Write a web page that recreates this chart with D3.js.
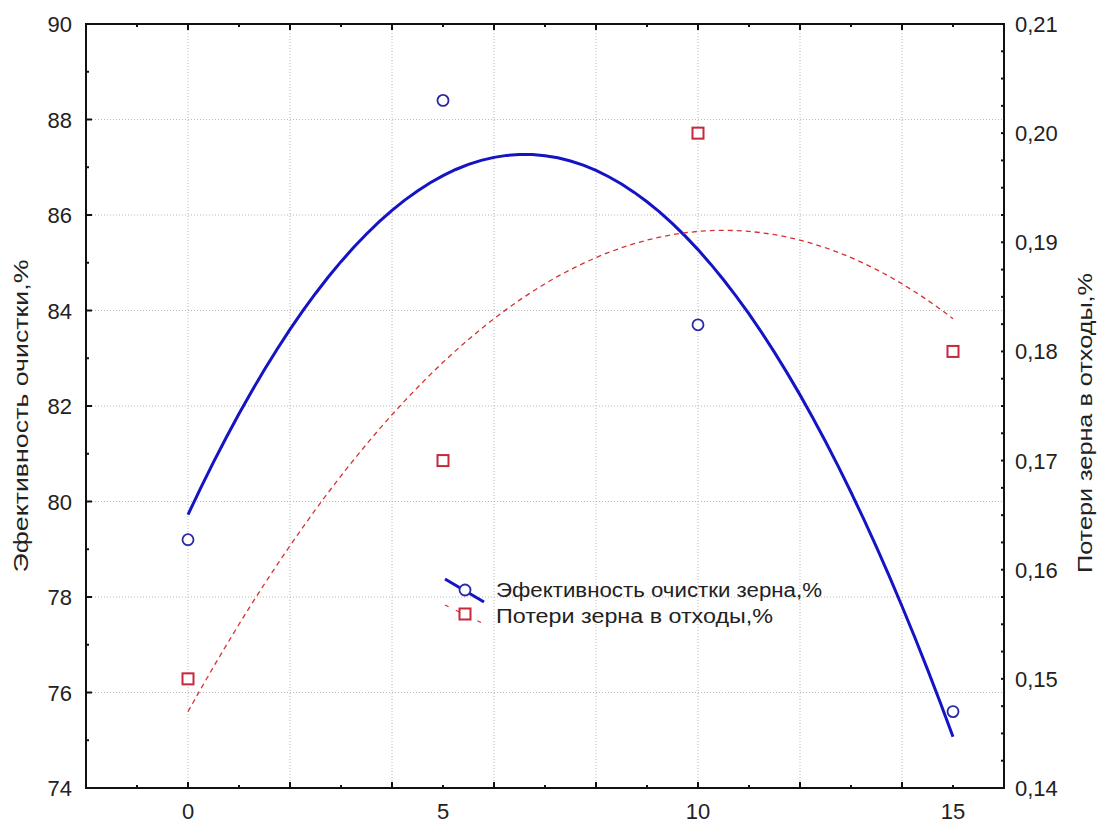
<!DOCTYPE html>
<html><head><meta charset="utf-8">
<script src="https://cdn.jsdelivr.net/npm/d3@7"></script>
<style>
body{margin:0;background:#fff;}
svg{display:block;}
text{font-family:"Liberation Sans",Arial,sans-serif;fill:#222;}
</style></head>
<body>
<script>
// ---- data ----
const xValues = [0, 5, 10, 15];
const efficiency = [79.2, 88.4, 83.7, 75.6];      // Эфективность очистки зерна,%
const losses = [0.150, 0.170, 0.200, 0.180];     // Потери зерна в отходы,%
const xTickLabels = [0, 5, 10, 15];
const leftTicks = [74, 76, 78, 80, 82, 84, 86, 88, 90];
const rightTicks = [0.14, 0.15, 0.16, 0.17, 0.18, 0.19, 0.20, 0.21];
const seriesNames = ["Эфективность очистки зерна,%", "Потери зерна в отходы,%"];
const leftTitle = "Эфективность очистки,%";
const rightTitle = "Потери зерна в отходы,%";

const W = 1099, H = 823;
const svg = d3.select("body").append("svg").attr("width", W).attr("height", H);

const x = d3.scaleLinear().domain([-2, 16]).range([86, 1004]);
const yL = d3.scaleLinear().domain([74, 90]).range([788, 24]);
const yR = d3.scaleLinear().domain([0.14, 0.21]).range([788, 24]);

// quadratic least squares fit
function quadFit(xs, ys) {
  const n = xs.length;
  let S = [0,0,0,0,0], T = [0,0,0];
  for (let i = 0; i < n; i++) {
    const xi = xs[i], yi = ys[i];
    for (let k = 0; k < 5; k++) S[k] += Math.pow(xi, k);
    for (let k = 0; k < 3; k++) T[k] += Math.pow(xi, k) * yi;
  }
  const A = [[S[0],S[1],S[2],T[0]],[S[1],S[2],S[3],T[1]],[S[2],S[3],S[4],T[2]]];
  for (let i = 0; i < 3; i++) {
    for (let j = i+1; j < 3; j++) {
      const f = A[j][i] / A[i][i];
      for (let k = i; k < 4; k++) A[j][k] -= f * A[i][k];
    }
  }
  const c = [0,0,0];
  for (let i = 2; i >= 0; i--) {
    let s = A[i][3];
    for (let k = i+1; k < 3; k++) s -= A[i][k] * c[k];
    c[i] = s / A[i][i];
  }
  return t => c[0] + c[1]*t + c[2]*t*t;
}

const g = svg.append("g");

// grid
const xGrid = d3.range(0, 15, 2);
g.selectAll(".vg").data(xGrid).enter().append("line")
  .attr("x1", d => x(d)).attr("x2", d => x(d)).attr("y1", 24).attr("y2", 788)
  .attr("stroke", "#b8b8b8").attr("stroke-width", 1).attr("stroke-dasharray", "1,2");
g.selectAll(".hg").data(leftTicks.filter(d => d > 74 && d < 90)).enter().append("line")
  .attr("x1", 86).attr("x2", 1004).attr("y1", d => yL(d)).attr("y2", d => yL(d))
  .attr("stroke", "#b8b8b8").attr("stroke-width", 1).attr("stroke-dasharray", "1,2");

// frame
g.append("rect").attr("x", 86).attr("y", 24).attr("width", 918).attr("height", 764)
  .attr("fill", "none").attr("stroke", "#111").attr("stroke-width", 2);

// ticks x (bottom & top, inward)
const xMajor = d3.range(-2, 17, 2), xMinor = d3.range(-1, 16, 2);
[[788, -1], [24, 1]].forEach(([y0, dir]) => {
  g.selectAll(null).data(xMajor).enter().append("line")
    .attr("x1", d => x(d)).attr("x2", d => x(d)).attr("y1", y0).attr("y2", y0 + dir * 6)
    .attr("stroke", "#111").attr("stroke-width", 2);
  g.selectAll(null).data(xMinor).enter().append("line")
    .attr("x1", d => x(d)).attr("x2", d => x(d)).attr("y1", y0).attr("y2", y0 + dir * 3)
    .attr("stroke", "#111").attr("stroke-width", 2);
});
// ticks left
g.selectAll(null).data(leftTicks).enter().append("line")
  .attr("x1", 86).attr("x2", 92).attr("y1", d => yL(d)).attr("y2", d => yL(d))
  .attr("stroke", "#111").attr("stroke-width", 2);
g.selectAll(null).data(d3.range(75, 90, 2)).enter().append("line")
  .attr("x1", 86).attr("x2", 89).attr("y1", d => yL(d)).attr("y2", d => yL(d))
  .attr("stroke", "#111").attr("stroke-width", 2);
// ticks right (minor every 0.0025)
g.selectAll(null).data(d3.range(0, 29)).enter().append("line")
  .attr("x1", 1004).attr("x2", 1001).attr("y1", d => yR(0.14 + d * 0.0025)).attr("y2", d => yR(0.14 + d * 0.0025))
  .attr("stroke", "#111").attr("stroke-width", 2);

// tick labels
g.selectAll(null).data(xTickLabels).enter().append("text")
  .attr("x", d => x(d)).attr("y", 819).attr("text-anchor", "middle")
  .style("font-size", "22px").text(d => d);
g.selectAll(null).data(leftTicks).enter().append("text")
  .attr("x", 72).attr("y", d => yL(d) + 8).attr("text-anchor", "end")
  .style("font-size", "22px").text(d => d);
g.selectAll(null).data(rightTicks).enter().append("text")
  .attr("x", 1015).attr("y", d => yR(d) + 8).attr("text-anchor", "start")
  .style("font-size", "22px").text(d => d.toFixed(2).replace(".", ","));

// axis titles
svg.append("text").attr("transform", "translate(28,416) rotate(-90)")
  .attr("text-anchor", "middle").style("font-size", "20px")
  .attr("textLength", 313).attr("lengthAdjust", "spacingAndGlyphs").text(leftTitle);
svg.append("text").attr("transform", "translate(1092,423) rotate(-90)")
  .attr("text-anchor", "middle").style("font-size", "20px")
  .attr("textLength", 300).attr("lengthAdjust", "spacingAndGlyphs").text(rightTitle);

// fitted curves
const fitE = quadFit(xValues, efficiency);
const fitL = quadFit(xValues, losses);
const xs = d3.range(0, 15.001, 0.25);
const blue = "#1414c4", red = "#d83030";
g.append("path").datum(xs)
  .attr("d", d3.line().x(d => x(d)).y(d => yL(fitE(d))))
  .attr("fill", "none").attr("stroke", blue).attr("stroke-width", 3);
g.append("path").datum(xs)
  .attr("d", d3.line().x(d => x(d)).y(d => yR(fitL(d))))
  .attr("fill", "none").attr("stroke", red).attr("stroke-width", 1.3).attr("stroke-dasharray", "5,4");

// markers
g.selectAll(null).data(xValues).enter().append("circle")
  .attr("cx", d => x(d)).attr("cy", (d, i) => yL(efficiency[i])).attr("r", 5.5)
  .attr("fill", "#fff").attr("stroke", "#2828a8").attr("stroke-width", 1.8);
g.selectAll(null).data(xValues).enter().append("rect")
  .attr("x", d => x(d) - 5.5).attr("y", (d, i) => yR(losses[i]) - 5.5)
  .attr("width", 11).attr("height", 11)
  .attr("fill", "#fff").attr("stroke", "#c8283c").attr("stroke-width", 2);

// legend
const lg = svg.append("g");
lg.append("line").attr("x1", 445).attr("y1", 579).attr("x2", 484).attr("y2", 602)
  .attr("stroke", blue).attr("stroke-width", 3);
lg.append("circle").attr("cx", 465).attr("cy", 590).attr("r", 5.5)
  .attr("fill", "#fff").attr("stroke", "#2828a8").attr("stroke-width", 1.8);
lg.append("line").attr("x1", 445).attr("y1", 605).attr("x2", 484).attr("y2", 624)
  .attr("stroke", red).attr("stroke-width", 1.3).attr("stroke-dasharray", "4,8");
lg.append("rect").attr("x", 459.5).attr("y", 608.5).attr("width", 11).attr("height", 11)
  .attr("fill", "#fff").attr("stroke", "#c8283c").attr("stroke-width", 2);
lg.append("text").attr("x", 496).attr("y", 597).style("font-size", "20px")
  .attr("textLength", 326).attr("lengthAdjust", "spacingAndGlyphs").text(seriesNames[0]);
lg.append("text").attr("x", 496).attr("y", 623).style("font-size", "20px")
  .attr("textLength", 277).attr("lengthAdjust", "spacingAndGlyphs").text(seriesNames[1]);
</script>
</body></html>
